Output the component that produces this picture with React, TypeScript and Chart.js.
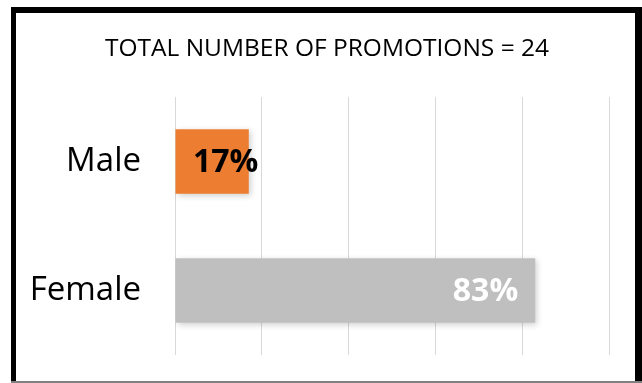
import React, { useEffect, useRef } from "react";
import { Chart, registerables } from "chart.js";

Chart.register(...registerables);

const categories = ["Male", "Female"];
const values = [17, 83];
const barColors = ["#ED7D31", "#BFBFBF"];
const labelColors = ["#000000", "#FFFFFF"];
const titleText = "TOTAL NUMBER OF PROMOTIONS = 24";

const FONT = "'Open Sans', sans-serif";

const framePlugin = {
  id: "frame",
  afterDraw(chart: any) {
    const ctx = chart.ctx;
    ctx.save();
    ctx.fillStyle = "#000000";
    ctx.fillRect(11, 7, 5, 376);
    ctx.fillRect(11, 7, 631, 6);
    ctx.fillRect(635, 7, 7, 376);
    ctx.fillStyle = "#808080";
    ctx.fillRect(11, 381, 631, 2);
    // title
    ctx.fillStyle = "#000000";
    ctx.font = `24.5px ${FONT}`;
    ctx.textAlign = "center";
    ctx.textBaseline = "middle";
    ctx.fillText(titleText, 327, 49);
    ctx.restore();
  },
};

const shadowPlugin = {
  id: "barShadow",
  beforeDatasetsDraw(chart: any) {
    const ctx = chart.ctx;
    ctx.save();
    ctx.shadowColor = "rgba(0,0,0,0.18)";
    ctx.shadowBlur = 6;
    ctx.shadowOffsetX = 2;
    ctx.shadowOffsetY = 2;
  },
  afterDatasetsDraw(chart: any) {
    chart.ctx.restore();
  },
};

const labelPlugin = {
  id: "valueLabels",
  afterDatasetsDraw(chart: any) {
    const ctx = chart.ctx;
    const meta = chart.getDatasetMeta(0);
    const base = chart.scales.x.getPixelForValue(0);
    ctx.save();
    ctx.font = `bold 32px ${FONT}`;
    ctx.textAlign = "right";
    ctx.textBaseline = "middle";
    meta.data.forEach((bar: any, i: number) => {
      const txt = values[i] + "%";
      const w = ctx.measureText(txt).width;
      const x = Math.max(bar.x - 17, base + w + 18);
      ctx.fillStyle = labelColors[i];
      ctx.fillText(txt, x, bar.y + 1);
    });
    ctx.restore();
  },
};

export default function App() {
  const ref = useRef<HTMLCanvasElement>(null);
  useEffect(() => {
    document.body.style.margin = "0";
    const chart = new Chart(ref.current!, {
      type: "bar",
      data: {
        labels: categories,
        datasets: [
          {
            data: values,
            backgroundColor: barColors,
            borderWidth: 0,
            categoryPercentage: 1,
            barPercentage: 0.5,
          },
        ],
      },
      options: {
        indexAxis: "y",
        animation: false,
        responsive: false,
        layout: { padding: { left: 0, right: 33, top: 97, bottom: 28 } },
        plugins: {
          legend: { display: false },
          tooltip: { enabled: false },
          title: { display: false },
        },
        scales: {
          x: {
            min: 0,
            max: 100,
            ticks: { display: false, stepSize: 20 },
            grid: { color: "#D9D9D9", drawTicks: false, lineWidth: 1 },
            border: { display: false },
            afterFit(scale: any) {
              scale.height = 0;
              scale.paddingLeft = 0;
              scale.paddingRight = 0;
            },
          },
          y: {
            grid: { display: false, drawTicks: false },
            border: { display: false },
            ticks: {
              color: "#000000",
              font: { family: FONT, size: 33 },
              padding: 34,
            },
            afterFit(scale: any) {
              scale.width = 175;
              scale.paddingTop = 0;
              scale.paddingBottom = 0;
            },
          },
        },
      },
      plugins: [shadowPlugin, labelPlugin, framePlugin],
    });
    return () => chart.destroy();
  }, []);
  return <canvas ref={ref} width={642} height={383} />;
}
